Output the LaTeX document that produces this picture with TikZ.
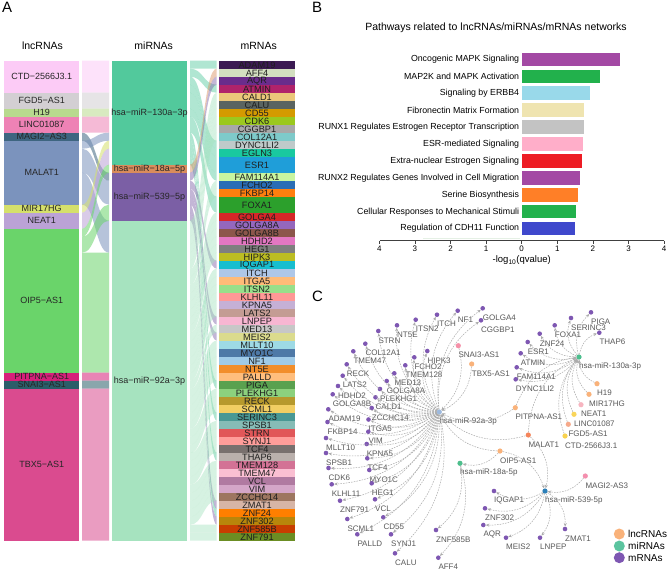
\documentclass[tikz,border=0pt]{standalone}
\usepackage{fontspec}
\setmainfont{Liberation Sans}
\usetikzlibrary{arrows.meta}
\definecolor{ctd}{HTML}{FCCBF6}
\definecolor{fgd}{HTML}{D3CFD3}
\definecolor{hnn}{HTML}{B8DA8E}
\definecolor{linc}{HTML}{EE82B5}
\definecolor{magi}{HTML}{3E6580}
\definecolor{malat}{HTML}{7B93BD}
\definecolor{mir}{HTML}{D5E06B}
\definecolor{neat}{HTML}{BBA2D6}
\definecolor{oip}{HTML}{6AD46A}
\definecolor{pitp}{HTML}{D6207A}
\definecolor{snai}{HTML}{2A5D69}
\definecolor{tbx}{HTML}{DA4B8F}
\definecolor{mA}{HTML}{52C99C}
\definecolor{mB}{HTML}{D98C5C}
\definecolor{mC}{HTML}{7B5FA5}
\definecolor{mD}{HTML}{A6E3BF}
\definecolor{mcol}{HTML}{7E57B2}
\definecolor{lcol}{HTML}{F9B27A}
\definecolor{tcol}{HTML}{5BC49F}
\tikzset{
 lnclab/.style={font=\fontsize{9}{9}\selectfont, text=black!85, inner sep=0},
 mlab/.style={font=\fontsize{9.2}{9.2}\selectfont, text=black!88, inner sep=0},
 hdr/.style={font=\fontsize{10.5}{11}\selectfont, inner sep=0},
 panel/.style={font=\fontsize{15}{15}\selectfont, inner sep=0},
 barlab/.style={font=\fontsize{8.8}{9}\selectfont, anchor=east, inner sep=0},
 tick/.style={font=\fontsize{8}{8}\selectfont, inner sep=0},
 nlab/.style={font=\fontsize{8}{8}\selectfont, text=black!65, anchor=west, inner sep=0},
 mdot/.style={circle, fill=mcol, inner sep=0, minimum size=4.6pt},
 ndot/.style={circle, inner sep=0, minimum size=5.2pt},
 edge/.style={draw=black!33, line width=0.5pt, dash pattern=on 1.6pt off 1.1pt, -{Stealth[length=3.5pt,width=3pt]}},
 legdot/.style={circle, inner sep=0, minimum size=11pt},
 leglab/.style={font=\fontsize{10}{10}\selectfont, anchor=west, inner sep=0},
}
\begin{document}
\begin{tikzpicture}[x=1pt,y=-1pt]
\useasboundingbox (0,0) rectangle (669,571);
\fill[white] (0,0) rectangle (669,571);
% panel letters
\node[panel] (pA) at (7.2,7.5) {A};
\node[panel] (pB) at (317,7.5) {B};
\node[panel] (pC) at (317.5,296.7) {C};
% headers
\node[hdr] (h1) at (42.5,46) {lncRNAs};
\node[hdr] (h2) at (153.7,46) {miRNAs};
\node[hdr] (h3) at (258.7,46) {mRNAs};
% strip 1 flows
\foreach \a/\b/\n/\id in {0/0/4/ctd,4/4/2/fgd,6/6/1/hnn,7/7/2/linc,9/14/1/magi,10/9/1/malat,11/15/3/malat,14/20/4/malat,18/10/1/mir,19/11/2/neat,21/13/1/oip,22/18/2/oip,24/24/15/oip,39/39/1/pitp,40/40/1/snai,41/41/19/tbx}{
 \fill[\id, fill opacity=0.55] (82,{60.7+8*\a}) .. controls (95.5,{60.7+8*\a}) and (95.5,{60.7+8*\b}) .. (109,{60.7+8*\b}) -- (109,{60.7+8*(\b+\n)}) .. controls (95.5,{60.7+8*(\b+\n)}) and (95.5,{60.7+8*(\a+\n)}) .. (82,{60.7+8*(\a+\n)}) -- cycle;
}
% strip 2 flows
\foreach \a/\b/\n/\id in {0/0/1/mA,1/3/1/mA,2/10/1/mA,3/11/1/mA,4/12/2/mA,6/14/1/mA,7/17/2/mA,9/40/1/mA,10/44/1/mA,11/49/1/mA,12/56/1/mA,13/1/1/mB,14/2/1/mC,15/25/1/mC,16/32/1/mC,17/34/1/mC,18/55/1/mC,19/57/1/mC,20/4/1/mD,21/5/1/mD,22/6/1/mD,23/7/1/mD,24/8/1/mD,25/9/1/mD,26/15/1/mD,27/16/1/mD,28/19/1/mD,29/20/1/mD,30/21/1/mD,31/22/1/mD,32/23/1/mD,33/24/1/mD,34/26/1/mD,35/27/1/mD,36/28/1/mD,37/29/1/mD,38/30/1/mD,39/31/1/mD,40/33/1/mD,41/35/1/mD,42/36/1/mD,43/37/1/mD,44/38/1/mD,45/39/1/mD,46/41/1/mD,47/42/1/mD,48/43/1/mD,49/45/1/mD,50/46/1/mD,51/47/1/mD,52/48/1/mD,53/50/1/mD,54/51/1/mD,55/52/1/mD,56/53/1/mD,57/54/1/mD,58/58/1/mD,59/59/1/mD}{
 \fill[\id, fill opacity=0.45] (190,{60.7+8*\a}) .. controls (203.3,{60.7+8*\a}) and (203.3,{60.7+8*\b}) .. (216.7,{60.7+8*\b}) -- (216.7,{60.7+8*(\b+\n)}) .. controls (203.3,{60.7+8*(\b+\n)}) and (203.3,{60.7+8*(\a+\n)}) .. (190,{60.7+8*(\a+\n)}) -- cycle;
}
% lncRNA strata
\foreach \s/\n/\id/\t in {0/4/ctd/CTD−2566J3.1,4/2/fgd/FGD5−AS1,6/1/hnn/H19,7/2/linc/LINC01087,9/1/magi/MAGI2−AS3,10/8/malat/MALAT1,18/1/mir/MIR17HG,19/2/neat/NEAT1,21/18/oip/OIP5−AS1,39/1/pitp/PITPNA−AS1,40/1/snai/SNAI3−AS1,41/19/tbx/TBX5−AS1}{
 \fill[\id] (4,{60.7+8*\s}) rectangle (79.3,{60.7+8*(\s+\n)});
 \node[lnclab] (L\id) at (41.7,{60.7+8*(\s+\n/2)}) {\t};
}
% miRNA strata
\foreach \s/\n/\id/\t in {0/13/mA/hsa−miR−130a−3p,13/1/mB/hsa−miR−18a−5p,14/6/mC/hsa−miR−539−5p,20/40/mD/hsa−miR−92a−3p}{
 \fill[\id] (112,{60.7+8*\s}) rectangle (187,{60.7+8*(\s+\n)});
 \node[lnclab] (M\id) at (149.5,{60.7+8*(\s+\n/2)}) {\t};
}
% mRNA strata
\foreach \s/\n/\hx/\t in {0/1/3B1A52/ADAM19,1/1/D3DFC0/AFF4,2/1/6A2C8C/AQR,3/1/B0236B/ATMIN,4/1/EBC77A/CALD1,5/1/5A6460/CALU,6/1/D49A00/CD55,7/1/9BC81E/CDK6,8/1/A8A8A8/CGGBP1,9/1/7ECACA/COL12A1,10/1/BFCACA/DYNC1LI2,11/1/19C9A0/EGLN3,12/2/1F9ED9/ESR1,14/1/C8F5A0/FAM114A1,15/1/2A6DB5/FCHO2,16/1/FF7F0E/FKBP14,17/2/2CA02C/FOXA1,19/1/D62728/GOLGA4,20/1/9467BD/GOLGA8A,21/1/8C564B/GOLGA8B,22/1/E377C2/HDHD2,23/1/7F7F7F/HEG1,24/1/BCBD22/HIPK3,25/1/17BECF/IQGAP1,26/1/AEC7E8/ITCH,27/1/FFBB78/ITGA5,28/1/98DF8A/ITSN2,29/1/FF9896/KLHL11,30/1/C5B0D5/KPNA5,31/1/C49C94/LATS2,32/1/F7B6D2/LNPEP,33/1/C7C7C7/MED13,34/1/DBDB8D/MEIS2,35/1/9EDAE5/MLLT10,36/1/4E79A7/MYO1C,37/1/A0CBE8/NF1,38/1/F28E2B/NT5E,39/1/FFBE7D/PALLD,40/1/59A14F/PIGA,41/1/8CD17D/PLEKHG1,42/1/B6992D/RECK,43/1/F1CE63/SCML1,44/1/499894/SERINC3,45/1/86BCB6/SPSB1,46/1/E15759/STRN,47/1/FF9D9A/SYNJ1,48/1/79706E/TCF4,49/1/BAB0AC/THAP6,50/1/D37295/TMEM128,51/1/FABFD2/TMEM47,52/1/B07AA1/VCL,53/1/D4A6C8/VIM,54/1/9D7660/ZCCHC14,55/1/D7B5A6/ZMAT1,56/1/FF7F00/ZNF24,57/1/B8860B/ZNF302,58/1/C83E00/ZNF585B,59/1/6B8E23/ZNF791}{
 \definecolor{tmpc}{HTML}{\hx}
 \fill[tmpc] (219,{60.7+8*\s}) rectangle (295,{60.7+8*(\s+\n)});
 \node[mlab] (R\s) at (257,{60.7+8*(\s+\n/2)+0.3}) {\t};
}
% ---------- panel B ----------
\node[font=\fontsize{10.5}{11}\selectfont, inner sep=0] (title) at (496,28) {Pathways related to lncRNAs/miRNAs/mRNAs networks};
\foreach \i/\v/\hx/\t in {0/2.76/A349A4/Oncogenic MAPK Signaling,1/2.21/22B14C/MAP2K and MAPK Activation,2/1.91/99D9EA/Signaling by ERBB4,3/1.76/EFE4B0/Fibronectin Matrix Formation,4/1.76/C3C3C3/RUNX1 Regulates Estrogen Receptor Transcription,5/1.73/FFAEC9/ESR-mediated Signaling,6/1.70/ED1C24/Extra-nuclear Estrogen Signaling,7/1.63/A349A4/RUNX2 Regulates Genes Involved in Cell Migration,8/1.58/FF7F27/Serine Biosynthesis,9/1.52/22B14C/Cellular Responses to Mechanical Stimuli,10/1.50/3F48CC/Regulation of CDH11 Function}{
 \definecolor{tmpc}{HTML}{\hx}
 \fill[tmpc] (521.7,{59.3+16.94*\i-6.7}) rectangle ({521.7+35.6*\v},{59.3+16.94*\i+6.7});
 \node[barlab] (B\i) at (519.3,{59.3+16.94*\i}) {\t};
}
\draw[green!40!black!10, line width=0.8pt] (423,238.6) -- (520,238.6);
\draw[black!75, line width=0.5pt] (380,240.7) -- (664,240.7);
\foreach \k in {-4,...,4}{
 \pgfmathtruncatemacro\lab{abs(\k)}
 \draw[black!75, line width=0.5pt] ({521.7+35.6*\k},240.7) -- ++(0,3);
 \node[tick] (T\lab\k) at ({521.7+35.6*\k},249) {\lab};
}
\node[font=\fontsize{9.5}{10}\selectfont, inner sep=0] (xl) at (521.7,260) {-log\textsubscript{10}(qvalue)};
% ---------- panel C ----------
% miRNA nodes
\node[ndot, fill={rgb,255:red,76;green,191;blue,142}] (c130) at (579,357) {};
\node[ndot, fill={rgb,255:red,157;green,185;blue,222}] (c92) at (439.3,412) {};
\node[ndot, fill={rgb,255:red,77;green,190;blue,140}] (c18) at (460,463.3) {};
\node[ndot, fill={rgb,255:red,44;green,127;blue,184}] (c539) at (545,491) {};
\node[nlab] (tc130) at (579,366.5) {hsa-miR-130a-3p};
\node[nlab] (tc92) at (439.3,421.5) {hsa-miR-92a-3p};
\node[nlab] (tc18) at (460,472.8) {hsa-miR-18a-5p};
\node[nlab] (tc539) at (545,500.5) {hsa-miR-539-5p};
% lncRNA nodes
\foreach \id/\x/\y/\hx/\t in {H19/597/383.7/F9B27A/H19,MIR/589/394.3/F9B27A/MIR17HG,NEAT/581/404.7/F7B5C0/NEAT1,LINC/574/414.3/F9D55A/LINC01087,FGD/568.3/424.3/F6A98A/FGD5-AS1,CTD/565/436/F8D24E/CTD-2566J3.1,MALAT/528.3/435/F5845A/MALAT1,OIP/500/451/F9B27A/OIP5-AS1,MAGI/585.3/476/F48FAE/MAGI2-AS3,PITP/515.3/407.7/F9B27A/PITPNA-AS1,SNAI/458.3/345.7/F590A8/SNAI3-AS1,TBX/471.7/364/F9B27A/TBX5-AS1}{
 \definecolor{tmpc}{HTML}{\hx}
 \node[ndot, fill=tmpc] (n\id) at (\x,\y) {};
 \node[nlab] (t\id) at (\x,\y+9.5) {\t};
}
% mRNA nodes
\foreach \t/\x/\y in {GOLGA4/482.7/308.3,CGGBP1/481/320.3,NF1/457.7/310.7,ITCH/437/314.7,ITSN2/415.7/319.7,NT5E/397/325.3,STRN/378.3/331,COL12A1/365.3/343.7,TMEM47/353.3/351.3,RECK/346.7/364.3,LATS2/342.7/375.7,HDHD2/338/386,GOLGA8B/332.7/394.3,ADAM19/328.3/409.3,FKBP14/327.5/422,MLLT10/326/438,SPSB1/326/453,CDK6/328.5/468,KLHL11/331.7/484.3,ZNF791/340/500.7,SCML1/347.3/519,PALLD/357.3/534.3,HIPK3/427.3/351,FCHO2/414.3/357.3,TMEM128/405.3/365.3,MED13/394.3/373.3,GOLGA8A/386.7/381,PLEKHG1/380/389,CALD1/375.5/397.3,ZCCHC14/371.7/408,ITGA5/368.5/419.5,VIM/368.3/431.7,KPNA5/366.7/444,TCF4/367.3/458.3,MYO1C/369.3/470,HEG1/371.7/483.3,VCL/375/499.3,CD55/383.3/517.3,SYNJ1/391/534.3,CALU/395/553.3,ZNF585B/436/530,AFF4/438.3/557.7,ESR1/527.7/342,ATMIN/520.7/353.3,FAM114A1/516.7/367.3,DYNC1LI2/515.7/379.3,ZNF24/539.7/333.7,FOXA1/554.7/325.3,SERINC3/571/318,PIGA/591/312.3,THAP6/599.3/332.7,IQGAP1/494/491,ZNF302/485/508.3,AQR/483.3/525,MEIS2/506/537.7,LNPEP/540/537.7,ZMAT1/565/529}{
 \node[mdot] (n\t) at (\x,\y) {};
 \node[nlab] (t\t) at (\x,\y+9.5) {\t};
}
% edges
\foreach \t in {GOLGA4,CGGBP1,NF1,ITCH,ITSN2,NT5E,STRN,COL12A1,TMEM47,RECK,LATS2,HDHD2,GOLGA8B,ADAM19,FKBP14,MLLT10,SPSB1,CDK6,KLHL11,ZNF791,SCML1,PALLD,HIPK3,FCHO2,TMEM128,MED13,GOLGA8A,PLEKHG1,CALD1,ZCCHC14,ITGA5,VIM,KPNA5,TCF4,MYO1C,HEG1,VCL,CD55,SYNJ1,CALU}
 \draw[edge] (c92) to[bend left=30] (n\t);
\foreach \t in {ESR1,ATMIN,FAM114A1,DYNC1LI2,ZNF24,FOXA1,SERINC3,PIGA,THAP6}
 \draw[edge] (c130) to[bend left=30] (n\t);
\foreach \t in {IQGAP1,ZNF302,AQR,MEIS2,LNPEP,ZMAT1}
 \draw[edge] (c539) to[bend left=30] (n\t);
\foreach \t in {ZNF585B,AFF4}
 \draw[edge] (c18) to[bend left=30] (n\t);
\foreach \t in {H19,MIR,NEAT,LINC,FGD,CTD,MALAT,PITP}
 \draw[edge] (n\t) to[bend left=30] (c130);
\foreach \t in {SNAI,TBX,PITP,MALAT,OIP}
 \draw[edge] (n\t) to[bend left=30] (c92);
\foreach \t in {MAGI,MALAT,OIP}
 \draw[edge] (n\t) to[bend left=30] (c539);
\draw[edge] (nOIP) to[bend left=30] (c18);
% legend
\node[legdot, fill=lcol] (g1) at (619.3,534) {};
\node[legdot, fill=tcol] (g2) at (619.3,546) {};
\node[legdot, fill=mcol] (g3) at (619.3,557.7) {};
\node[leglab] (k1) at (628,534) {lncRNAs};
\node[leglab] (k2) at (628,546) {miRNAs};
\node[leglab] (k3) at (628,557.7) {mRNAs};
\end{tikzpicture}
\end{document}
